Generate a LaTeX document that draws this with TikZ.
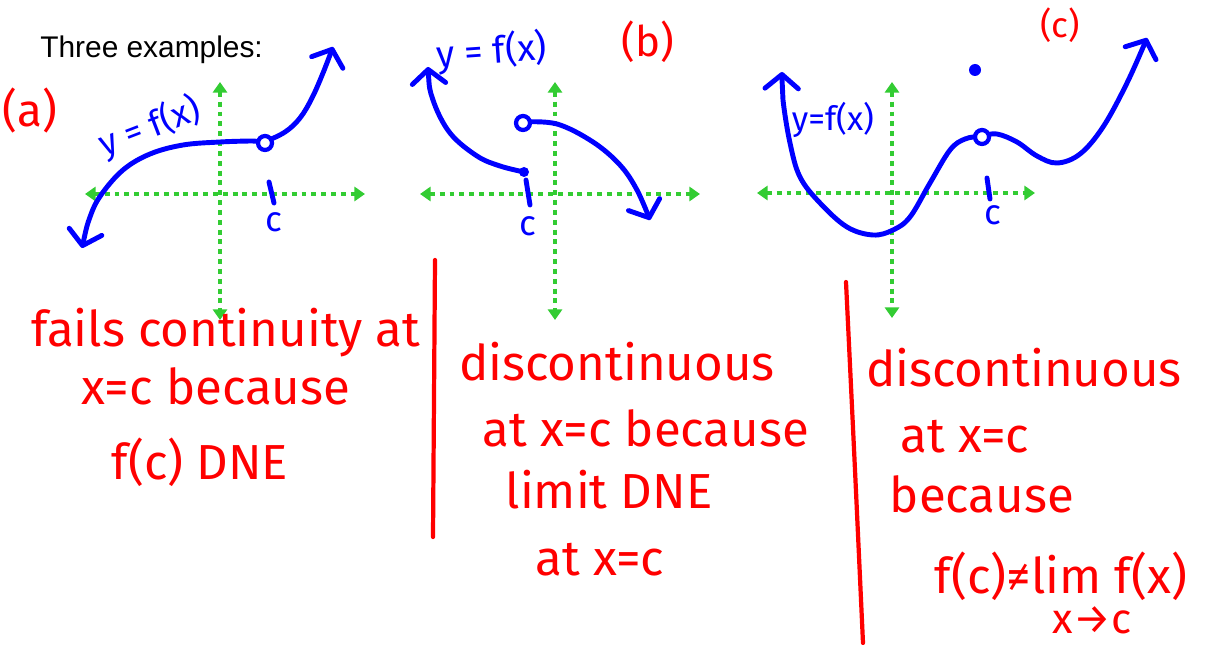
\documentclass[tikz,border=0pt]{standalone}
\usepackage{fontspec}
\usepackage{xcolor}
\usetikzlibrary{arrows.meta}
\newfontfamily\handfont{Fira Sans}
\newfontfamily\titlefont{Liberation Sans}
\definecolor{LimRed}{HTML}{FF0000}
\definecolor{LimBlue}{HTML}{0000FF}
\definecolor{LimGreen}{HTML}{33CC33}
\tikzset{
  axis/.style={LimGreen,line width=2.3pt,dash pattern=on 2.8pt off 2.8pt,
    {Triangle[length=6pt,width=8pt]}-{Triangle[length=6pt,width=8pt]}},
  graph/.style={LimBlue,line width=2.8pt,line cap=round,line join=round},
  hole/.style={LimBlue,line width=2.4pt,fill=white},
  divider/.style={LimRed,line width=2.4pt,line cap=round},
  redtext/.style={text=LimRed,inner sep=0pt,font=\handfont\fontsize{28}{32}\selectfont},
  bluetext/.style={text=LimBlue,inner sep=0pt,font=\handfont\fontsize{20}{22}\selectfont}
}

\begin{document}
\begin{tikzpicture}[x=0.02cm,y=-0.02cm]
\path[use as bounding box] (0,0) rectangle (1205,645);
\node[anchor=west,inner sep=0pt,font=\titlefont\fontsize{17}{20}\selectfont] (title) at (40,50) {Three examples:};
% (a)
\draw[axis] (220,82) -- (220,320);
\draw[axis] (85,194) -- (365,194);
\draw[graph,{Straight Barb[length=8pt,width=19pt,round]}-{Straight Barb[length=8pt,width=19pt,round]}]
  plot[smooth,tension=0.6] coordinates {(82,248) (90,217) (101,195) (123,170) (150,154) (183,145) (220,142) (250,141) (265,141) (285,132) (300,118) (312,98) (323,73) (333,47)};
\draw[hole] (265,143) circle (7);
\draw[graph] (269,182) -- (274,203);
\node[bluetext] (ca) at (274,222) {c};
\node[bluetext,rotate=21] (ya) at (150,127) {y = f(x)};
\node[redtext,font=\handfont\fontsize{26}{30}\selectfont] (lbla) at (30,111) {(a)};
\node[redtext] (ta1) at (226,333) {fails continuity at};
\node[redtext] (ta2) at (216,386) {x=c because};
\node[redtext] (ta3) at (200,462) {f(c) DNE};
\draw[divider] (435,260) -- (433,537);
% (b)
\draw[axis] (555,82) -- (555,320);
\draw[axis] (420,194) -- (700,194);
\draw[graph,{Straight Barb[length=8pt,width=19pt,round]}-]
  plot[smooth,tension=0.6] coordinates {(428,67) (433,100) (450,133) (477,156) (500,166) (524,172)};
\fill[LimBlue] (524,172) circle (5);
\draw[graph,-{Straight Barb[length=8pt,width=19pt,round]}]
  plot[smooth,tension=0.6] coordinates {(523,122) (557,124) (593,142) (620,165) (637,190) (650,220)};
\draw[hole] (523,123) circle (7);
\draw[graph] (526,180) -- (530,205);
\node[bluetext] (cb) at (528,226) {c};
\node[bluetext,font=\handfont\fontsize{21}{23}\selectfont,rotate=4] (yb) at (492,52) {y = f(x)};
\node[redtext,font=\handfont\fontsize{24}{28}\selectfont] (lblb) at (648,42) {(b)};
\node[redtext] (tb1) at (617,362) {discontinuous};
\node[redtext] (tb2) at (646,428) {at x=c because};
\node[redtext] (tb3) at (609,490) {limit DNE};
\node[redtext] (tb4) at (600,560) {at x=c};
\draw[divider] plot[smooth] coordinates {(846,282) (855,470) (863,643)};
% (c)
\draw[axis] (892,82) -- (892,318);
\draw[axis] (757,193) -- (1035,193);
\draw[graph,{Straight Barb[length=8pt,width=19pt,round]}-{Straight Barb[length=8pt,width=19pt,round]}]
  plot[smooth,tension=0.6] coordinates {(782,72) (783,100) (790,143) (800,177) (820,203) (847,227) (873,235) (893,230) (910,217) (930,183) (950,150) (965,139) (982,136) (997,134) (1017,142) (1037,156) (1057,163) (1080,154) (1103,127) (1127,83) (1147,38)};
\draw[hole] (982,137) circle (7);
\fill[LimBlue] (975,70) circle (6);
\draw[graph] (987,178) -- (990,199);
\node[bluetext] (cc) at (993,215) {c};
\node[bluetext,font=\handfont\fontsize{19}{21}\selectfont] (yc) at (833,120) {y=f(x)};
\node[redtext,font=\handfont\fontsize{20}{24}\selectfont] (lblc) at (1060,25) {(c)};
\node[redtext] (tc1) at (1024,368) {discontinuous};
\node[redtext] (tc2) at (965,437) {at x=c};
\node[redtext] (tc3) at (982,494) {because};
\node[redtext] (tc4) at (1061,576) {f(c)≠lim f(x)};
\node[redtext,font=\handfont\fontsize{24}{27}\selectfont] (tc5) at (1092,620) {x→c};
\end{tikzpicture}
\end{document}
